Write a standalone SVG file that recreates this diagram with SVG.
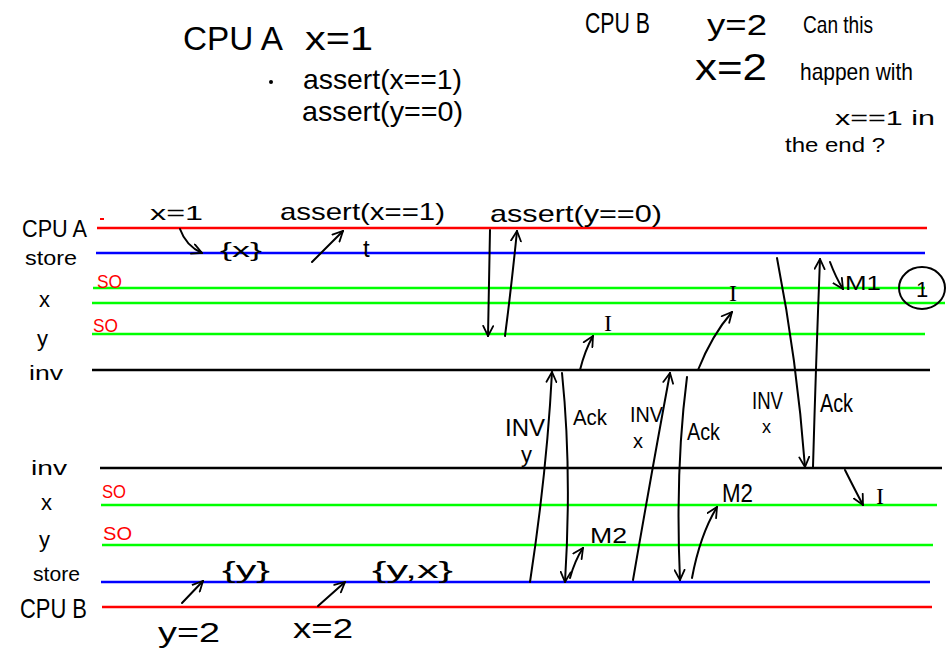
<svg xmlns="http://www.w3.org/2000/svg" width="950" height="648" viewBox="0 0 950 648" font-size="18">
<style>
  text { font-family: "Liberation Sans", "DejaVu Sans", sans-serif; fill: #000; }
  .i { font-family: "Liberation Serif", serif; }
  .so { fill: #ff0000; }
  .lane { stroke-width: 2.5; fill: none; }
  .red { stroke: #ff0000; }
  .blue { stroke: #0000ff; }
  .green { stroke: #00ff00; }
  .black { stroke: #000000; }
  .c { fill: none; stroke: #000; stroke-width: 2; stroke-linecap: round; marker-end: url(#ah); }
</style>
<defs>
  <marker id="ah" viewBox="0 0 12 12" refX="11" refY="6" markerWidth="12" markerHeight="12" orient="auto" markerUnits="userSpaceOnUse">
    <path d="M1,1 L11,6 L1,11" fill="none" stroke="#000" stroke-width="1.8" stroke-linecap="round"/>
  </marker>
</defs>
<rect width="950" height="648" fill="#fff"/>

<g id="header-a">
  <text x="183" y="50" font-size="34" textLength="100" lengthAdjust="spacingAndGlyphs">CPU A</text>
  <text x="305" y="50" font-size="34" textLength="68" lengthAdjust="spacingAndGlyphs">x=1</text>
  <circle cx="271" cy="82" r="2" fill="#000"/>
  <text x="303" y="89" font-size="28" textLength="159" lengthAdjust="spacingAndGlyphs">assert(x==1)</text>
  <text x="302" y="121" font-size="28" textLength="161" lengthAdjust="spacingAndGlyphs">assert(y==0)</text>
</g>
<g id="header-b">
  <text x="585" y="33" font-size="30" textLength="65" lengthAdjust="spacingAndGlyphs">CPU B</text>
  <text x="707" y="35" font-size="30" textLength="60" lengthAdjust="spacingAndGlyphs">y=2</text>
  <text x="695" y="80" font-size="36" textLength="72" lengthAdjust="spacingAndGlyphs">x=2</text>
  <text x="803" y="33" font-size="24" textLength="70" lengthAdjust="spacingAndGlyphs">Can this</text>
  <text x="800" y="80" font-size="24" textLength="113" lengthAdjust="spacingAndGlyphs">happen with</text>
  <text x="835" y="125" font-size="21" textLength="100" lengthAdjust="spacingAndGlyphs">x==1 in</text>
  <text x="785" y="152" font-size="21" textLength="100" lengthAdjust="spacingAndGlyphs">the end ?</text>
</g>

<g id="lane-cpu-a">
  <line class="lane red" x1="97" y1="228" x2="927" y2="228"/>
  <line x1="100" y1="219" x2="104" y2="219" stroke="#ff0000" stroke-width="2"/>
  <text x="22" y="237" font-size="24" textLength="65" lengthAdjust="spacingAndGlyphs">CPU A</text>
</g>
<g id="lane-store-a">
  <line class="lane blue" x1="96" y1="253" x2="925" y2="253"/>
  <text x="25" y="265" font-size="20" textLength="52" lengthAdjust="spacingAndGlyphs">store</text>
</g>
<g id="lane-x-a">
  <line class="lane green" x1="93" y1="288" x2="925" y2="288"/>
  <line class="lane green" x1="92" y1="303" x2="945" y2="303"/>
  <text x="39" y="307" font-size="22">x</text>
  <text class="so" x="97" y="288" font-size="19" textLength="25" lengthAdjust="spacingAndGlyphs">SO</text>
</g>
<g id="lane-y-a">
  <line class="lane green" x1="92" y1="334" x2="925" y2="334"/>
  <text x="37" y="346" font-size="22">y</text>
  <text class="so" x="93" y="332" font-size="19" textLength="25" lengthAdjust="spacingAndGlyphs">SO</text>
</g>
<g id="lane-inv-a">
  <line class="lane black" x1="92" y1="370" x2="930" y2="370"/>
  <text x="29" y="380" font-size="20" textLength="34" lengthAdjust="spacingAndGlyphs">inv</text>
</g>

<g id="lane-inv-b">
  <line class="lane black" x1="100" y1="468" x2="942" y2="468"/>
  <text x="31" y="475" font-size="20" textLength="36" lengthAdjust="spacingAndGlyphs">inv</text>
</g>
<g id="lane-x-b">
  <line class="lane green" x1="101" y1="505" x2="937" y2="505"/>
  <text x="41" y="510" font-size="22">x</text>
  <text class="so" x="102" y="498" font-size="19" textLength="24" lengthAdjust="spacingAndGlyphs">SO</text>
</g>
<g id="lane-y-b">
  <line class="lane green" x1="102" y1="545" x2="933" y2="545"/>
  <text x="39" y="547" font-size="22">y</text>
  <text class="so" x="103" y="540" font-size="19" textLength="29" lengthAdjust="spacingAndGlyphs">SO</text>
</g>
<g id="lane-store-b">
  <line class="lane blue" x1="101" y1="582" x2="930" y2="582"/>
  <text x="33" y="581" font-size="20" textLength="47" lengthAdjust="spacingAndGlyphs">store</text>
</g>
<g id="lane-cpu-b">
  <line class="lane red" x1="102" y1="607" x2="932" y2="607"/>
  <text x="20" y="618" font-size="28" textLength="67" lengthAdjust="spacingAndGlyphs">CPU B</text>
</g>

<g id="annotations">
  <text x="150" y="220" font-size="21" textLength="53" lengthAdjust="spacingAndGlyphs">x=1</text>
  <text x="220" y="257" font-size="20" textLength="42" lengthAdjust="spacingAndGlyphs">{x}</text>
  <text x="280" y="220" font-size="24" textLength="165" lengthAdjust="spacingAndGlyphs">assert(x==1)</text>
  <text x="363" y="257" font-size="24">t</text>
  <text x="490" y="222" font-size="24" textLength="172" lengthAdjust="spacingAndGlyphs">assert(y==0)</text>
  <text class="i" x="604" y="331" font-size="24">I</text>
  <text class="i" x="729" y="301" font-size="24">I</text>
  <text x="845" y="290" font-size="20" textLength="36" lengthAdjust="spacingAndGlyphs">M1</text>
  <ellipse cx="922" cy="288" rx="23" ry="21" fill="none" stroke="#000" stroke-width="2"/>
  <text x="916" y="297" font-size="22">1</text>
  <text x="505" y="436" font-size="24" textLength="40" lengthAdjust="spacingAndGlyphs">INV</text>
  <text x="521" y="462" font-size="22">y</text>
  <text x="573" y="425" font-size="22" textLength="34" lengthAdjust="spacingAndGlyphs">Ack</text>
  <text x="590" y="543" font-size="22" textLength="37" lengthAdjust="spacingAndGlyphs">M2</text>
  <text x="630" y="422" font-size="22" textLength="33" lengthAdjust="spacingAndGlyphs">INV</text>
  <text x="633" y="448" font-size="20">x</text>
  <text x="687" y="440" font-size="24" textLength="33" lengthAdjust="spacingAndGlyphs">Ack</text>
  <text x="722" y="502" font-size="25" textLength="31" lengthAdjust="spacingAndGlyphs">M2</text>
  <text x="752" y="409" font-size="24" textLength="31" lengthAdjust="spacingAndGlyphs">INV</text>
  <text x="762" y="433" font-size="18">x</text>
  <text x="820" y="412" font-size="26" textLength="33" lengthAdjust="spacingAndGlyphs">Ack</text>
  <text class="i" x="876" y="504" font-size="24">I</text>
  <text x="222" y="578" font-size="24" textLength="48" lengthAdjust="spacingAndGlyphs">{y}</text>
  <text x="372" y="578" font-size="24" textLength="81" lengthAdjust="spacingAndGlyphs">{y,x}</text>
  <text x="158" y="642" font-size="28" textLength="62" lengthAdjust="spacingAndGlyphs">y=2</text>
  <text x="293" y="638" font-size="28" textLength="60" lengthAdjust="spacingAndGlyphs">x=2</text>
</g>

<g id="connectors">
  <path class="c" d="M180,229 Q186,246 202,253"/>
  <path class="c" d="M312,262 L343,231"/>
  <path class="c" d="M490,230 L488,336"/>
  <path class="c" d="M505,336 Q511,290 517,231"/>
  <path class="c" d="M580,370 Q585,350 593,336"/>
  <path class="c" d="M698,370 Q712,335 732,312"/>
  <path class="c" d="M777,258 Q797,360 805,467"/>
  <path class="c" d="M813,467 Q816,360 820,259"/>
  <path class="c" d="M830,262 Q836,278 843,289"/>
  <path class="c" d="M530,582 Q547,470 552,372"/>
  <path class="c" d="M562,373 Q572,470 565,582"/>
  <path class="c" d="M570,578 Q575,560 583,548"/>
  <path class="c" d="M633,580 Q652,470 670,373"/>
  <path class="c" d="M687,377 Q675,470 680,580"/>
  <path class="c" d="M692,578 Q700,535 717,507"/>
  <path class="c" d="M845,470 Q855,490 863,505"/>
  <path class="c" d="M182,603 L203,581"/>
  <path class="c" d="M318,606 L345,582"/>
</g>
</svg>
